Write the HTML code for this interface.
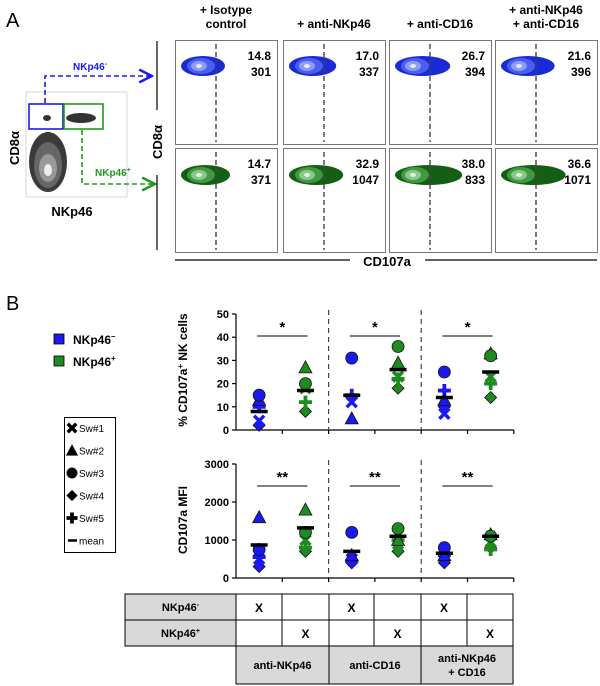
<!DOCTYPE html>
<html><head><meta charset="utf-8">
<style>
body{margin:0;background:#fff;font-family:"Liberation Sans",Arial,sans-serif;}
svg{display:block}
text{font-family:"Liberation Sans",Arial,sans-serif}
</style></head>
<body>
<svg id="fig" width="600" height="686" viewBox="0 0 600 686">
<defs>
<marker id="ab" markerWidth="10" markerHeight="10" refX="9" refY="5" orient="auto"><path d="M1,1 L9,5 L1,9" fill="none" stroke="#1a1aee" stroke-width="1.6"/></marker>
<marker id="ag" markerWidth="10" markerHeight="10" refX="9" refY="5" orient="auto"><path d="M1,1 L9,5 L1,9" fill="none" stroke="#1f9a1f" stroke-width="1.6"/></marker>
</defs>
<!-- Panel A -->
<text x="6" y="27" font-size="20">A</text>
<g>
<rect x="26" y="92" width="101" height="105" fill="#fff" stroke="#bbb" stroke-width="0.6"/>
<ellipse cx="48" cy="162" rx="19" ry="30" fill="#3a3a3a"/>
<ellipse cx="48" cy="165" rx="14" ry="23" fill="#666"/>
<ellipse cx="48" cy="168" rx="9" ry="14" fill="#999"/>
<ellipse cx="48" cy="170" rx="4" ry="6" fill="#eee"/>
<ellipse cx="47" cy="118" rx="4" ry="3" fill="#333"/>
<ellipse cx="81" cy="118" rx="15" ry="5" fill="#333"/>
<rect x="29" y="104" width="34" height="25" fill="none" stroke="#1a1aee" stroke-width="1.6"/>
<rect x="64" y="104" width="39" height="25" fill="none" stroke="#1f9a1f" stroke-width="1.6"/>
<text x="19" y="148" font-size="13" font-weight="bold" transform="rotate(-90 19 148)" text-anchor="middle">CD8α</text>
<text x="72" y="216" font-size="13" font-weight="bold" text-anchor="middle">NKp46</text>
</g>
<path d="M45,103 V76 H152" fill="none" stroke="#1a1aee" stroke-width="1.6" stroke-dasharray="5,3" marker-end="url(#ab)"/>
<text x="73" y="70" font-size="10" font-weight="bold" fill="#1a1aee">NKp46<tspan font-size="7" dy="-4">-</tspan></text>
<path d="M82,130 V184 H155" fill="none" stroke="#1f9a1f" stroke-width="1.6" stroke-dasharray="5,3" marker-end="url(#ag)"/>
<text x="95" y="176" font-size="10" font-weight="bold" fill="#1f9a1f">NKp46<tspan font-size="7" dy="-4">+</tspan></text>
<line x1="157" y1="41" x2="157" y2="110" stroke="#000" stroke-width="1.2"/>
<line x1="157" y1="175" x2="157" y2="250" stroke="#000" stroke-width="1.2"/>
<text x="162" y="142" font-size="13" font-weight="bold" transform="rotate(-90 162 142)" text-anchor="middle">CD8α</text>
<line x1="175" y1="260" x2="350" y2="260" stroke="#000" stroke-width="1.2"/>
<line x1="425" y1="260" x2="597" y2="260" stroke="#000" stroke-width="1.2"/>
<text x="387" y="266" font-size="13" font-weight="bold" text-anchor="middle">CD107a</text>
<g id="flow"></g>
<!-- Panel B -->
<text x="6" y="310" font-size="20">B</text>
<g>
<rect x="54" y="334" width="10" height="10" fill="#1a1aee" stroke="#000" stroke-width="0.8"/>
<text x="73" y="344" font-size="12" font-weight="bold">NKp46<tspan font-size="8" dy="-5">–</tspan></text>
<rect x="54" y="356" width="10" height="10" fill="#1f8a1f" stroke="#000" stroke-width="0.8"/>
<text x="73" y="366" font-size="12" font-weight="bold">NKp46<tspan font-size="8" dy="-5">+</tspan></text>
</g>
<g id="symlegend">
<rect x="64.5" y="417.5" width="51" height="135" fill="#fff" stroke="#000" stroke-width="1"/>
</g>
<text x="187" y="370" font-size="12" font-weight="bold" transform="rotate(-90 187 370)" text-anchor="middle">% CD107a<tspan font-size="8" dy="-4">+</tspan><tspan dy="4"> NK cells</tspan></text>
<text x="187" y="520" font-size="12" font-weight="bold" transform="rotate(-90 187 520)" text-anchor="middle">CD107a MFI</text>
<g id="charts"></g>
<g id="table"></g>
</svg>
<script>
const NS="http://www.w3.org/2000/svg";
function mk(tag,attrs,parent){const e=document.createElementNS(NS,tag);for(const k in attrs)e.setAttribute(k,attrs[k]);parent.appendChild(e);return e;}

// ---- Panel A flow data ----
const flowTitles=[["+ Isotype","control"],["+ anti-NKp46"],["+ anti-CD16"],["+ anti-NKp46","+ anti-CD16"]];
const flowPctNeg=["14.8","17.0","26.7","21.6"];
const flowMfiNeg=["301","337","394","396"];
const flowPctPos=["14.7","32.9","38.0","36.6"];
const flowMfiPos=["371","1047","833","1071"];
const fl=document.getElementById('flow');
const colX=[175,283,389,495], W=102, rowY=[40,148], H=104;
for(let c=0;c<4;c++){
  const t=flowTitles[c];
  const tt=mk('text',{x:colX[c]+W/2,y:t.length>1?14:28,'font-size':12,'font-weight':'bold','text-anchor':'middle'},fl);
  
  
  t.forEach((s,i)=>{const ts=mk('tspan',{x:colX[c]+W/2,dy:i?14:0},tt);ts.textContent=s;});
  for(let r=0;r<2;r++){
    const g=mk('g',{},fl);
    
    
    const x=colX[c],y=rowY[r];
    mk('rect',{x:x+0.5,y:y+0.5,width:W,height:H,fill:'#fff',stroke:'#555','stroke-width':0.8},g);
    const cols=r?['#155e15','#3f9a3f','#8cc68c','#dff0df']:['#1a2bd6','#4a5ff0','#8e9cf8','#e2e6ff'];
    const cy=y+(r?27:26), cx=x+24, ext=[10,14,24,22][c]*(r?1.3:0.8);
    mk('ellipse',{cx:cx+ext/2,cy:cy,rx:18+ext/2,ry:10,fill:cols[0]},g);
    mk('ellipse',{cx:cx+2,cy:cy,rx:14,ry:8,fill:cols[1]},g);
    mk('ellipse',{cx:cx,cy:cy,rx:8,ry:5,fill:cols[2]},g);
    mk('ellipse',{cx:cx,cy:cy,rx:3,ry:2,fill:cols[3]},g);
    const dx=x+41;
    mk('line',{x1:dx,y1:y+4,x2:dx,y2:y+H-2,stroke:'#444','stroke-width':1.4,'stroke-dasharray':'5,3'},g);
    const p=mk('text',{x:x+W-6,y:y+20,'font-size':12,'font-weight':'bold','text-anchor':'end'},g);
    p.textContent=r?flowPctPos[c]:flowPctNeg[c];
    const m=mk('text',{x:x+W-6,y:y+36,'font-size':12,'font-weight':'bold','text-anchor':'end'},g);
    m.textContent=r?flowMfiPos[c]:flowMfiNeg[c];
  }
}

// ---- Panel B chart data ----
const groups=["anti-NKp46 neg","anti-NKp46 pos","anti-CD16 neg","anti-CD16 pos","combo neg","combo pos"];
const groupColor=["#1a1aee","#1f8a1f","#1a1aee","#1f8a1f","#1a1aee","#1f8a1f"];
// order: Sw#1(x), Sw#2(triangle), Sw#3(circle), Sw#4(diamond), Sw#5(plus)
const pctSw1=[4,18,12,23,7,23];
const pctSw2=[13,27,5,29,13,33];
const pctSw3=[15,20,31,36,25,32];
const pctSw4=[2,8,14,18,10,14];
const pctSw5=[10,12,15,22,17,20];
const pctMean=[8,17,15,26,14,25];
const mfiSw1=[500,1000,500,900,550,950];
const mfiSw2=[1600,1800,600,1000,600,1150];
const mfiSw3=[750,1200,1200,1300,800,1100];
const mfiSw4=[300,700,400,700,400,800];
const mfiSw5=[550,800,450,1000,600,750];
const mfiMean=[870,1320,700,1100,650,1100];
const pctTicks=[0,10,20,30,40,50];
const mfiTicks=[0,1000,2000,3000];
const pctStars=["*","*","*"];
const mfiStars=["**","**","**"];

const ch=document.getElementById('charts');
const x0=236,gw=46.3;
function xScale(i){return x0+gw*(i+0.5);}
function drawSym(type,x,y,col,g,k){
  k=k||1;
  const s={fill:col,stroke:'#111','stroke-width':0.8};
  let e;
  if(type==0){e=mk('path',{d:`M${x-5*k},${y-5*k}L${x+5*k},${y+5*k}M${x+5*k},${y-5*k}L${x-5*k},${y+5*k}`,stroke:col,'stroke-width':3.4,fill:'none'},g);}
  else if(type==1){e=mk('path',Object.assign({d:`M${x},${y-6.5*k}L${x+6.5*k},${y+5.5*k}L${x-6.5*k},${y+5.5*k}Z`},s),g);}
  else if(type==2){e=mk('circle',Object.assign({cx:x,cy:y,r:6*k},s),g);}
  else if(type==3){e=mk('path',Object.assign({d:`M${x},${y-6*k}L${x+6*k},${y}L${x},${y+6*k}L${x-6*k},${y}Z`},s),g);}
  else{e=mk('path',{d:`M${x},${y-6.5*k}V${y+6.5*k}M${x-6.5*k},${y}H${x+6.5*k}`,stroke:col,'stroke-width':3.8,fill:'none'},g);}
  return e;
}
function chart(name,y0,y1,ymax,ticks,series,means,stars){
  const g=mk('g',{},ch);
  
  
  const ys=v=>y0-(v/ymax)*(y0-y1);
  const xEnd=x0+gw*6;
  mk('line',{x1:x0,y1:y1,x2:x0,y2:y0,stroke:'#000','stroke-width':1.2},g);
  mk('line',{x1:x0,y1:y0,x2:xEnd,y2:y0,stroke:'#000','stroke-width':1.2},g);
  ticks.forEach(t=>{
    mk('line',{x1:x0-4,y1:ys(t),x2:x0,y2:ys(t),stroke:'#000','stroke-width':1.2},g);
    const tx=mk('text',{x:x0-7,y:ys(t)+4,'font-size':11,'font-weight':'bold','text-anchor':'end'},g);
    
    
    tx.textContent=t;
  });
  for(let i=1;i<=6;i++)mk('line',{x1:x0+gw*i,y1:y0,x2:x0+gw*i,y2:y0+4,stroke:'#000','stroke-width':1.2},g);
  for(let k=1;k<3;k++)mk('line',{x1:x0+gw*2*k,y1:y1-4,x2:x0+gw*2*k,y2:y0,stroke:'#444','stroke-width':1.2,'stroke-dasharray':'5,4'},g);
  for(let k=0;k<3;k++){
    const xa=xScale(2*k)-2,xb=xScale(2*k+1)+2;
    mk('line',{x1:xa,y1:y1+22,x2:xb,y2:y1+22,stroke:'#000','stroke-width':1},g);
    const st=mk('text',{x:(xa+xb)/2,y:y1+18,'font-size':15,'font-weight':'bold','text-anchor':'middle'},g);
    
    
    st.textContent=stars[k];
  }
  for(let i=0;i<6;i++){
    [3,4,0,1,2].forEach(s=>{
      const m=drawSym(s,xScale(i),ys(series[s][i]),groupColor[i],g);
      
      
    });
    const mb=mk('line',{x1:xScale(i)-8.5,y1:ys(means[i]),x2:xScale(i)+8.5,y2:ys(means[i]),stroke:'#000','stroke-width':3.5},g);
    
    
  }
}
chart('pct-cd107a-chart',430,314,50,pctTicks,[pctSw1,pctSw2,pctSw3,pctSw4,pctSw5],pctMean,pctStars);
chart('cd107a-mfi-chart',578,464,3000,mfiTicks,[mfiSw1,mfiSw2,mfiSw3,mfiSw4,mfiSw5],mfiMean,mfiStars);

// symbol legend
const legLabels=["Sw#1","Sw#2","Sw#3","Sw#4","Sw#5","mean"];
const sl=document.getElementById('symlegend');
legLabels.forEach((l,i)=>{
  const y=428+i*22.5;
  if(i<5){drawSym(i,72,y,'#000',sl,0.85);}else{mk('line',{x1:68,y1:y,x2:77,y2:y,stroke:'#000','stroke-width':2.5},sl);}
  const t=mk('text',{x:79,y:y+4,'font-size':10},sl);
  
  
  t.textContent=l;
});

// table
const tb=document.getElementById('table');
const tcols=[125,236,282,329,374,421,467,513];
const trows=[594,620,646,684];
const rowLabels=[["NKp46","-"],["NKp46","+"]];
for(let r=0;r<2;r++){
  mk('rect',{x:tcols[0],y:trows[r],width:tcols[1]-tcols[0],height:trows[r+1]-trows[r],fill:'#d9d9d9',stroke:'#000','stroke-width':1},tb);
  const t=mk('text',{x:(tcols[0]+tcols[1])/2,y:trows[r]+17,'font-size':11,'font-weight':'bold','text-anchor':'middle'},tb);
  t.textContent=rowLabels[r][0];
  const sp=mk('tspan',{'font-size':7,dy:-4},tb.lastChild);sp.textContent=rowLabels[r][1];
  for(let c=0;c<6;c++){
    mk('rect',{x:tcols[c+1],y:trows[r],width:tcols[c+2]-tcols[c+1],height:trows[r+1]-trows[r],fill:'#fff',stroke:'#000','stroke-width':1},tb);
    if(c%2==r){const x=mk('text',{x:(tcols[c+1]+tcols[c+2])/2,y:trows[r]+18,'font-size':12,'font-weight':'bold','text-anchor':'middle'},tb);x.textContent='X';}
  }
}
const bottom=[["anti-NKp46"],["anti-CD16"],["anti-NKp46","+ CD16"]];
for(let k=0;k<3;k++){
  const xa=tcols[1+2*k],xb=tcols[3+2*k];
  mk('rect',{x:xa,y:trows[2],width:xb-xa,height:trows[3]-trows[2],fill:'#d9d9d9',stroke:'#000','stroke-width':1},tb);
  const b=bottom[k];
  const t=mk('text',{x:(xa+xb)/2,y:b.length>1?trows[2]+16:trows[2]+23,'font-size':11,'font-weight':'bold','text-anchor':'middle'},tb);
  b.forEach((s,i)=>{const ts=mk('tspan',{x:(xa+xb)/2,dy:i?14:0},t);ts.textContent=s;});
}
</script>
</body></html>
